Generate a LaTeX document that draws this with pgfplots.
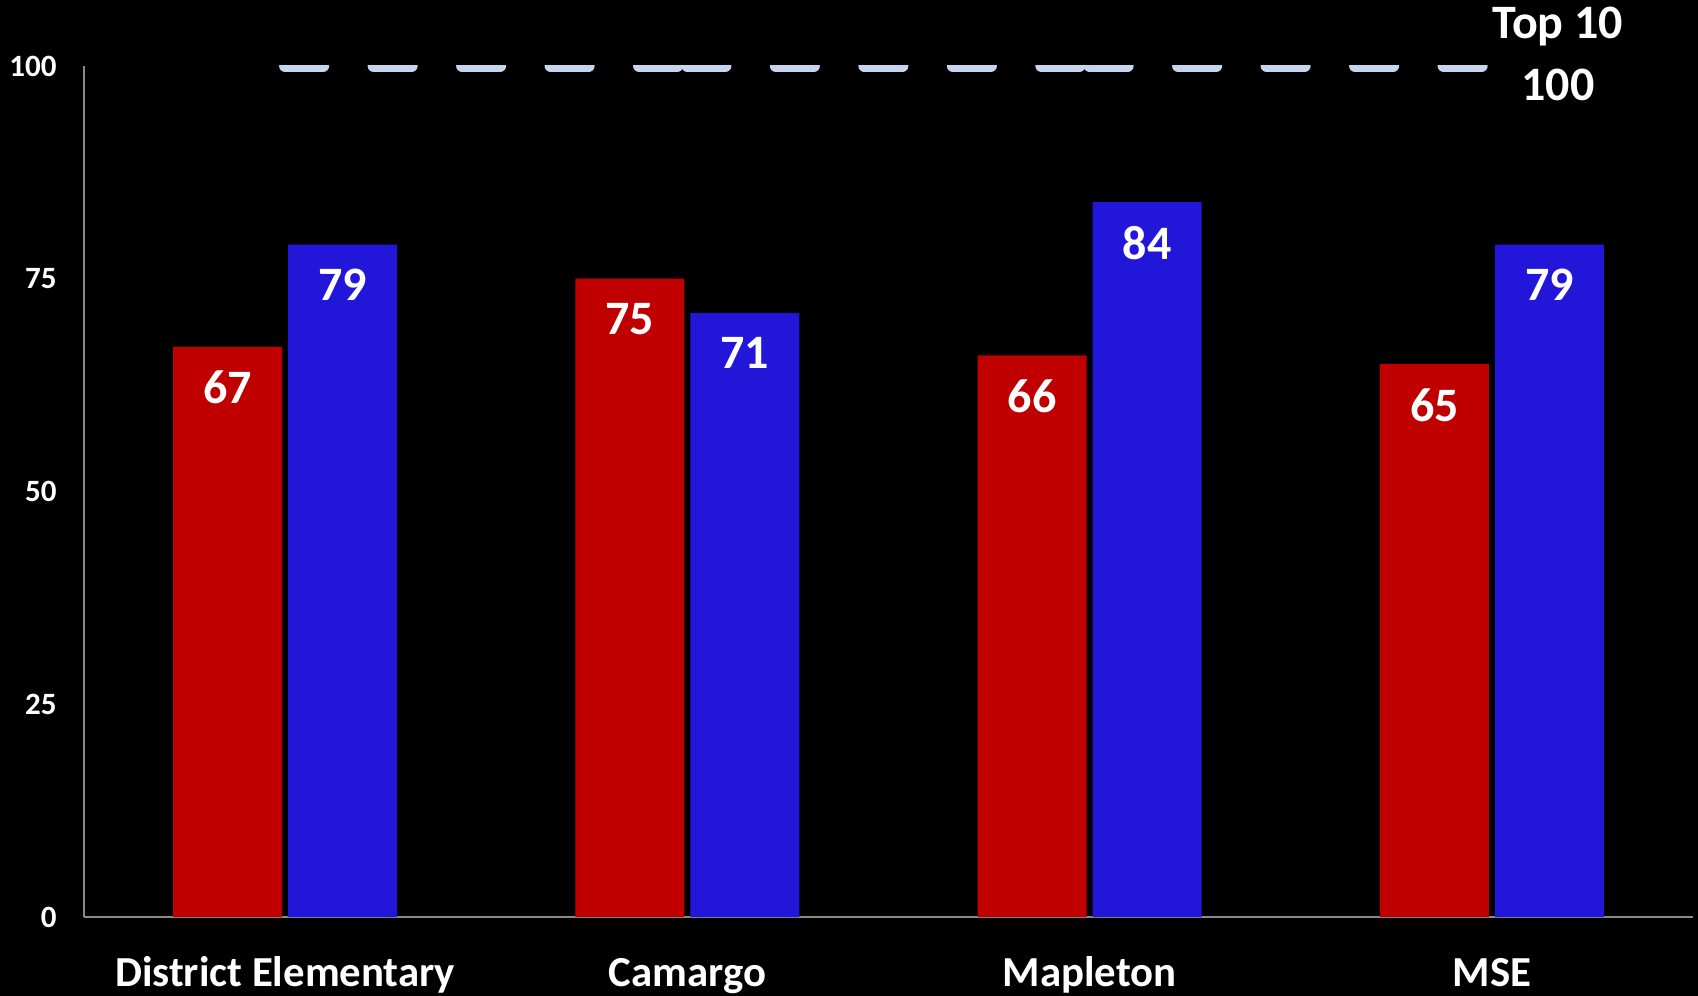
\documentclass[border=0pt]{standalone}
\usepackage{pgfplots}
\pgfplotsset{compat=1.18}
\usepackage{fontspec}
\setmainfont{Carlito}
\definecolor{barred}{HTML}{C00000}
\definecolor{barblue}{HTML}{2216D8}
\definecolor{topline}{HTML}{C5D5EE}
\definecolor{axisgray}{HTML}{898989}
\begin{document}
\begin{tikzpicture}
\fill[black] (-42pt,-39.5pt) rectangle (807pt,458.5pt);
\useasboundingbox (-42pt,-39.5pt) rectangle (807pt,458.5pt);
\begin{axis}[
  at={(0,0)}, anchor=south west,
  width=804.5pt, height=425.5pt, scale only axis,
  ymin=0, ymax=100, xmin=-0.5, xmax=3.5,
  ytick={0,25,50,75,100},
  xtick={0,1,2,3},
  xticklabels={District Elementary, Camargo, Mapleton, MSE},
  axis x line*=bottom, axis y line*=left,
  axis line style={axisgray, line width=1pt},
  major tick length=0pt,
  /pgf/number format/assume math mode=true,
  tick label style={white},
  yticklabel style={font=\fontsize{15.5}{18}\selectfont\bfseries, anchor=east, inner sep=0pt, xshift=-13.5pt},
  xticklabel style={font=\fontsize{21.4}{25}\selectfont\bfseries, anchor=base, inner sep=0pt, yshift=-34.5pt},
  clip mode=individual,
]
% bars
\addplot[ybar, bar width=54.5pt, bar shift=-28.75pt, fill=barred, draw=none,
  nodes near coords,
  every node near coord/.append style={white, font=\fontsize{24}{28}\selectfont\bfseries, anchor=north, inner sep=0pt, xshift=-28.75pt, yshift=-12pt}]
  coordinates {(0,67) (1,75) (2,66) (3,65)};
\addplot[ybar, bar width=54.5pt, bar shift=28.75pt, fill=barblue, draw=none,
  nodes near coords,
  every node near coord/.append style={white, font=\fontsize{24}{28}\selectfont\bfseries, anchor=north, inner sep=0pt, xshift=28.75pt, yshift=-12pt}]
  coordinates {(0,79) (1,71) (2,84) (3,79)};
% Top 10 line, each segment dashed on its own
\addplot[topline, line width=6pt, line cap=round, dash pattern=on 19pt off 25.25pt, mark=none] coordinates {(0,100) (1,100)};
\addplot[topline, line width=6pt, line cap=round, dash pattern=on 19pt off 25.25pt, mark=none] coordinates {(1,100) (2,100)};
\addplot[topline, line width=6pt, line cap=round, dash pattern=on 19pt off 25.25pt, mark=none] coordinates {(2,100) (3,100)};
\node[white, font=\fontsize{24}{28}\selectfont\bfseries, anchor=base] at (axis cs:3.164,103.2) {Top 10};
\node[white, font=\fontsize{24}{28}\selectfont\bfseries, anchor=base] at (axis cs:3.164,96.0) {100};
\end{axis}
\end{tikzpicture}
\end{document}
